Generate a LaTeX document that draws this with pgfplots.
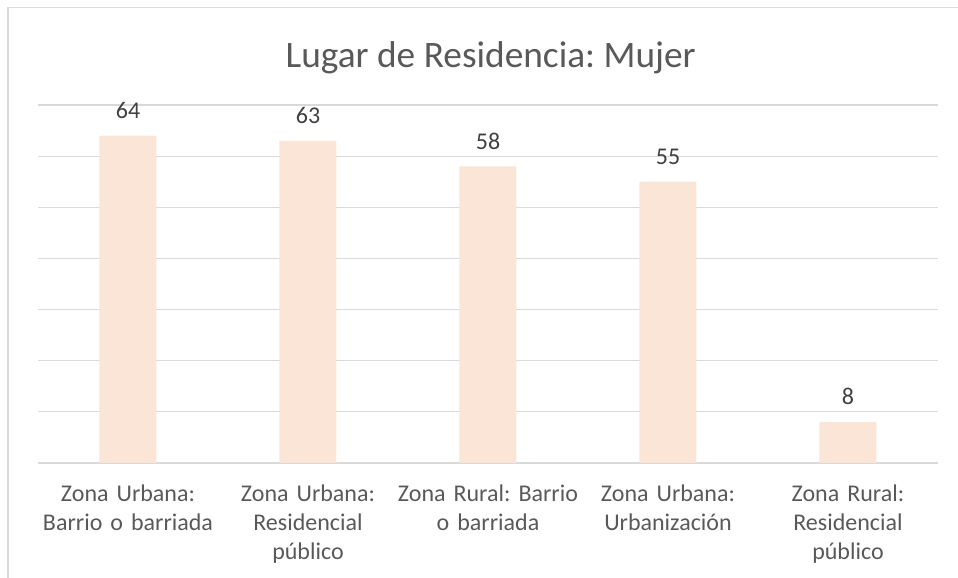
\documentclass[border=0pt]{standalone}
\usepackage{pgfplots}
\pgfplotsset{compat=1.18}
\usepackage{fontspec}
\setmainfont{Carlito}
\definecolor{barc}{HTML}{FBE5D6}
\definecolor{gridc}{HTML}{D9D9D9}
\definecolor{textc}{HTML}{595959}
\definecolor{labc}{HTML}{404040}
\begin{document}
\frenchspacing
\begin{tikzpicture}
\useasboundingbox (0,0) rectangle (718.5pt,433.5pt);
\draw[gridc, line width=1pt] (6pt,0) -- (6pt,428pt) -- (718.5pt,428pt);
\node[text=textc, font=\fontsize{28}{34}\selectfont, anchor=center] at (368pt,390.5pt) {Lugar de Residencia: Mujer};
\begin{axis}[
  at={(28.5pt,86.25pt)}, anchor=south west,
  scale only axis, width=675pt, height=268.5pt,
  ymin=0, ymax=70, ytick={0,10,...,70}, yticklabels={},
  xmin=-0.5, xmax=4.5,
  axis line style={draw=none},
  major tick length=0pt,
  ymajorgrids, grid style={gridc, line width=0.9pt},
  xtick=data,
  xticklabels={{Zona Urbana:\\Barrio o barriada},{Zona Urbana:\\Residencial\\público},{Zona Rural: Barrio\\o barriada},{Zona Urbana:\\Urbanización},{Zona Rural:\\Residencial\\público}},
  xticklabel style={align=center, text width=140pt, font=\fontsize{18}{22}\selectfont, text=textc, anchor=north, inner sep=0pt, yshift=-16pt},
  /pgf/number format/assume math mode=true,
  ybar, bar width=42.75pt,
  nodes near coords,
  every node near coord/.append style={font=\fontsize{18}{22}\selectfont, text=labc, anchor=base, inner sep=0pt, yshift=13pt},
]
\addplot[fill=barc, draw=none] coordinates {(0,64) (1,63) (2,58) (3,55) (4,8)};
\end{axis}
\end{tikzpicture}
\end{document}
